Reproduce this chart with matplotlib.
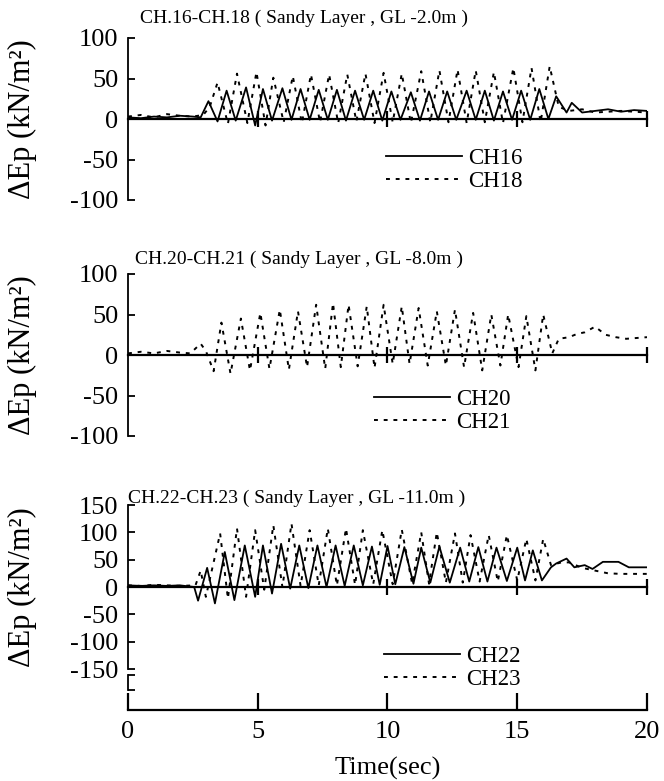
import numpy as np
import matplotlib
matplotlib.use("Agg")
import matplotlib.pyplot as plt

plt.rcParams['font.family'] = ['Liberation Serif', 'DejaVu Serif']

# ---- data (time in sec, dEp in kN/m2) ----
ch16_t = [0, 0.5, 1.0, 1.5, 2.0, 2.5, 2.8, 3.1, 3.45, 3.8, 4.15, 4.55, 4.9, 5.2, 5.55,
          5.95, 6.3, 6.65, 7.0, 7.35, 7.7, 8.05, 8.4, 8.75, 9.1, 9.45, 9.8, 10.15, 10.5,
          10.9, 11.25, 11.6, 11.95, 12.3, 12.65, 13.05, 13.4, 13.75, 14.1, 14.45, 14.8,
          15.15, 15.5, 15.85, 16.2, 16.5, 16.9, 17.1, 17.5, 18.0, 18.5, 19.0, 19.5, 20.0]
ch16_v = [2, 1, 3, 2, 4, 3, 2, 22, -3, 35, -2, 39, -8, 37, -2,
          38, -1, 37, -1, 36, -1, 36, -2, 35, -1, 35, -2, 34, -1,
          33, -2, 34, -1, 34, -1, 35, -1, 35, -2, 34, -1,
          35, -1, 37, 0, 28, 8, 20, 8, 10, 12, 9, 11, 10]

ch18_t = [0, 0.5, 1.0, 1.5, 2.0, 2.5, 2.9, 3.15, 3.45, 3.85, 4.2, 4.6, 4.95, 5.3, 5.6,
          6.0, 6.35, 6.7, 7.05, 7.4, 7.75, 8.1, 8.45, 8.8, 9.15, 9.5, 9.85, 10.2, 10.55,
          10.9, 11.3, 11.65, 12.0, 12.35, 12.7, 13.05, 13.4, 13.75, 14.1, 14.45, 14.85,
          15.2, 15.55, 15.9, 16.25, 16.6, 17.0, 17.5, 18.0, 19.0, 20.0]
ch18_v = [3, 5, 2, 6, 4, 3, 5, 15, 45, -6, 56, -5, 58, -8, 51,
          -4, 53, -5, 55, -4, 55, -5, 55, -3, 56, -5, 57, -4, 56,
          -5, 59, -4, 60, -4, 61, -5, 60, -4, 58, -5, 63,
          -4, 63, -4, 65, 15, 10, 12, 8, 10, 8]

ch20_t = [0, 2.5, 5, 10, 15, 16.5, 20]
ch20_v = [0, 0, 0, 0, 0, 0, 0]

ch21_t = [0, 0.5, 1.0, 1.5, 2.0, 2.4, 2.8, 3.0, 3.3, 3.6, 3.95, 4.35, 4.7, 5.1, 5.45,
          5.85, 6.2, 6.55, 6.9, 7.25, 7.6, 7.9, 8.2, 8.5, 8.85, 9.2, 9.5, 9.85, 10.2,
          10.55, 10.85, 11.2, 11.55, 11.9, 12.25, 12.6, 12.95, 13.3, 13.65, 14.0, 14.35,
          14.65, 15.05, 15.35, 15.7, 16.0, 16.35, 16.6, 17.0, 17.3, 17.6, 18.0, 18.4,
          18.8, 19.2, 19.6, 20.0]
ch21_v = [2, 4, 2, 5, 3, 2, 14, 5, -20, 40, -23, 45, -19, 52, -17,
          56, -18, 54, -15, 62, -17, 64, -15, 62, -14, 60, -16, 62, -11,
          60, -11, 58, -13, 54, -13, 56, -15, 52, -19, 50, -13,
          50, -15, 48, -19, 50, 2, 20, 22, 26, 28, 35, 25,
          22, 20, 21, 22]

ch22_t = [0, 0.5, 1.0, 1.5, 2.0, 2.55, 2.7, 3.05, 3.35, 3.73, 4.1, 4.5, 4.9, 5.2, 5.55,
          5.9, 6.25, 6.6, 6.95, 7.3, 7.65, 8.0, 8.35, 8.7, 9.05, 9.4, 9.7, 10.0, 10.3,
          10.65, 11.0, 11.3, 11.65, 12.0, 12.4, 12.8, 13.15, 13.5, 13.85, 14.2, 14.6,
          15.0, 15.3, 15.6, 15.95, 16.3, 16.5, 16.9, 17.2, 17.6, 17.9, 18.3, 18.9, 19.3,
          19.8, 20.0]
ch22_v = [3, 2, 3, 2, 3, 0, -25, 35, -30, 64, -24, 76, -18, 76, -12,
          79, -3, 76, -2, 76, 0, 76, 2, 76, 3, 74, 4, 75, 5,
          73, 6, 72, 8, 74, 8, 72, 10, 73, 10, 72, 11,
          72, 12, 67, 12, 36, 43, 52, 36, 40, 33, 46, 46, 36,
          36, 36]

ch23_t = [0, 0.5, 1.0, 1.5, 2.0, 2.6, 2.8, 3.0, 3.55, 3.85, 4.2, 4.55, 4.9, 5.25, 5.6,
          5.95, 6.3, 6.65, 7.0, 7.35, 7.7, 8.05, 8.4, 8.75, 9.05, 9.45, 9.8, 10.2, 10.55,
          10.95, 11.3, 11.6, 11.9, 12.25, 12.6, 12.9, 13.2, 13.55, 13.9, 14.25, 14.6,
          15.0, 15.35, 15.7, 16.0, 16.3, 16.7, 17.0, 17.5, 18.0, 18.5, 19.0, 19.5, 20.0]
ch23_v = [3, 2, 4, 3, 2, 3, 30, -18, 98, -21, 107, -18, 104, -5, 113,
          0, 116, 2, 104, 3, 107, 3, 107, 4, 104, 5, 104, 5, 105,
          6, 100, 6, 100, 8, 98, 8, 95, 10, 95, 10, 95,
          12, 88, 12, 88, 40, 45, 45, 35, 30, 25, 24, 24, 24]

panels = [
    dict(title='CH.16-CH.18 ( Sandy Layer , GL -2.0m )', lim=100, ticks=[-100, -50, 0, 50, 100],
         series=[(ch16_t, ch16_v, 'CH16'), (ch18_t, ch18_v, 'CH18')]),
    dict(title='CH.20-CH.21 ( Sandy Layer , GL -8.0m )', lim=100, ticks=[-100, -50, 0, 50, 100],
         series=[(ch20_t, ch20_v, 'CH20'), (ch21_t, ch21_v, 'CH21')]),
    dict(title='CH.22-CH.23 ( Sandy Layer , GL -11.0m )', lim=150,
         ticks=[-150, -100, -50, 0, 50, 100, 150],
         series=[(ch22_t, ch22_v, 'CH22'), (ch23_t, ch23_v, 'CH23')]),
]

W, H = 664, 781
fig = plt.figure(figsize=(W / 100, H / 100), dpi=100)

# panel boxes in pixels: (top, bottom) of the y range
boxes = [(38, 200), (274, 436), (505, 669)]
title_pos = [(140, 18), (135, 259), (128, 498)]
legend_pos = [(386, 148), (374, 389), (384, 646)]
x0, x1 = 128, 647

for p, (top, bot), (tx, ty), (lx, ly) in zip(panels, boxes, title_pos, legend_pos):
    ax = fig.add_axes([x0 / W, 1 - bot / H, (x1 - x0) / W, (bot - top) / H])
    (t1, v1, n1), (t2, v2, n2) = p['series']
    ax.plot(t1, v1, color='black', lw=1.3, label=n1)
    ax.plot(t2, v2, color='black', lw=1.4, linestyle=(0, (2, 3)), label=n2)
    ax.set_xlim(0, 20)
    ax.set_ylim(-p['lim'], p['lim'])
    ax.set_yticks(p['ticks'])
    ax.set_yticklabels([str(v) for v in p['ticks']])
    ax.set_xticks([5, 10, 15, 20])
    ax.set_xticklabels([])
    ax.spines['top'].set_visible(False)
    ax.spines['right'].set_visible(False)
    ax.spines['bottom'].set_position(('data', 0))
    ax.spines['bottom'].set_linewidth(1.6)
    ax.spines['left'].set_linewidth(1.3)
    ax.tick_params(axis='x', direction='inout', length=12, width=1.6)
    ax.tick_params(axis='y', direction='in', length=5, width=1.3, labelsize=19, pad=7)
    ax.patch.set_alpha(0)
    fig.text(tx / W, 1 - ty / H, p['title'], fontsize=14, va='center', ha='left')
    fig.text(22 / W, 1 - (top + bot) / 2 / H, 'ΔEp (kN/m²)', fontsize=22,
             rotation=90, va='center', ha='center')
    ax.legend(loc='upper left', bbox_to_anchor=(lx / W, 1 - ly / H),
              bbox_transform=fig.transFigure, frameon=False, fontsize=16.5,
              handlelength=3.3, handletextpad=0.3, labelspacing=0.1,
              borderpad=0, borderaxespad=0)

# time axis at the bottom, with the short bracket on its left
axt = fig.add_axes([x0 / W, 1 - 710 / H, (x1 - x0) / W, 40 / H])
axt.set_xlim(0, 20)
axt.set_ylim(0, 40)
axt.set_xticks([0, 5, 10, 15, 20])
axt.set_yticks([20, 35])
axt.set_yticklabels([])
for s in ['top', 'right']:
    axt.spines[s].set_visible(False)
axt.spines['left'].set_bounds(20, 35)
axt.spines['left'].set_linewidth(1.3)
axt.spines['bottom'].set_linewidth(1.6)
axt.tick_params(axis='x', direction='in', length=12, width=1.6, labelsize=19, pad=8)
axt.tick_params(axis='y', direction='in', length=5, width=1.3)
axt.patch.set_alpha(0)
axt.set_xlabel('Time(sec)', fontsize=19, labelpad=10)

fig.savefig('out.png', dpi=100)
